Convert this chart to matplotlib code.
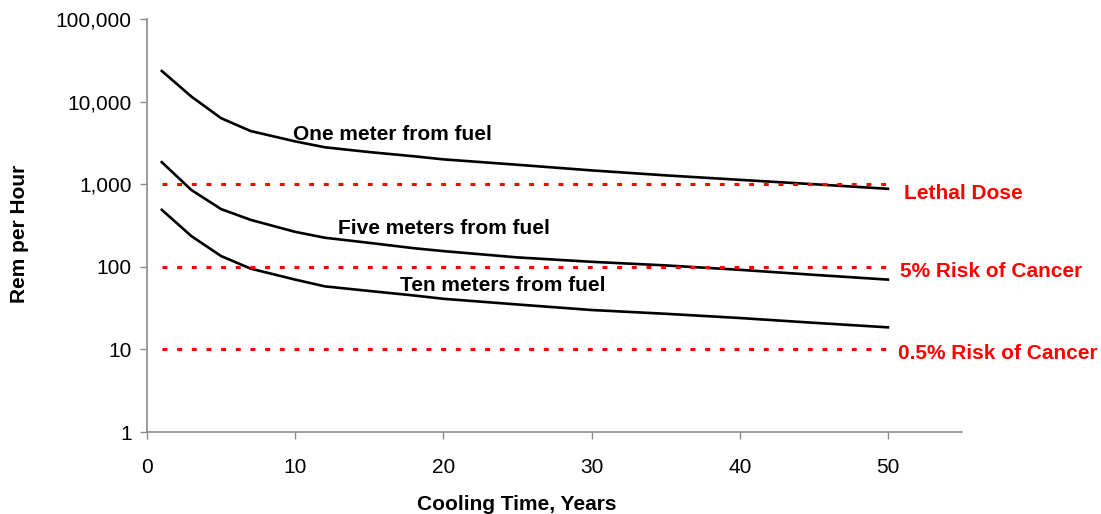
#!/usr/bin/env python3
#=========================================================================#
# Dose rate from spent fuel vs cooling time                               #
#=========================================================================#
import numpy as np
import matplotlib
matplotlib.use('Agg')
import matplotlib.pyplot as plt
from matplotlib.ticker import FixedLocator, FuncFormatter, NullLocator
#-------------------------------------------------------------------------#
# Data                                                                    #
#-------------------------------------------------------------------------#
years       = [1, 3, 5, 7, 10, 12, 15, 18, 20, 25, 30, 35, 40, 45, 50]
one_meter   = [23500, 11500, 6300, 4400, 3300, 2800, 2450, 2180, 2000,
               1720, 1470, 1280, 1130, 1000, 880]
five_meter  = [1850, 850, 500, 370, 265, 225, 195, 168, 155,
               130, 115, 104, 92, 80, 70]
ten_meter   = [490, 235, 135, 95, 70, 58, 51, 45, 41,
               35, 30, 27, 24, 21, 18.5]
curve_names = ['One meter from fuel', 'Five meters from fuel',
               'Ten meters from fuel']
limits      = [1000, 100, 10]
limit_names = ['Lethal Dose', '5% Risk of Cancer', '0.5% Risk of Cancer']
y_ticks     = [1, 10, 100, 1000, 10000, 100000]
x_ticks     = [0, 10, 20, 30, 40, 50]
#-------------------------------------------------------------------------#
# Settings                                                                #
#-------------------------------------------------------------------------#
plt.rcParams['font.family'] = ['Liberation Sans', 'DejaVu Sans']
axis_gray   = '#8c8c8c'
red         = '#ff0000'
fs          = 15

fig = plt.figure(figsize=(11.01, 5.14), dpi=100)
ax  = fig.add_axes([0.1335, 0.1595, 0.7403, 0.8035])
#-------------------------------------------------------------------------#
# Curves                                                                  #
#-------------------------------------------------------------------------#
for vals in [one_meter, five_meter, ten_meter]:
    ax.plot(years, vals, color='black', lw=1.9, solid_joinstyle='round')

for lim in limits:
    ax.plot([years[0], years[-1]], [lim, lim], color=red, lw=2.2,
            linestyle=(0, (1.6, 3.2)), dash_capstyle='butt')
#-------------------------------------------------------------------------#
# Labels on curves                                                        #
#-------------------------------------------------------------------------#
label_pos   = [(9.85, 3430), (12.9, 250), (17.1, 51)]
for name, (lx, ly) in zip(curve_names, label_pos):
    ax.text(lx, ly, name, fontsize=fs, fontweight='bold', color='black',
            ha='left', va='baseline')

limit_pos   = [(51.1, 656), (50.8, 76), (50.7, 7.6)]
for name, (lx, ly) in zip(limit_names, limit_pos):
    ax.text(lx, ly, name, fontsize=fs, fontweight='bold', color=red,
            ha='left', va='baseline', clip_on=False)
#-------------------------------------------------------------------------#
# Axes                                                                    #
#-------------------------------------------------------------------------#
ax.set_yscale('log')
ax.set_xlim(0, 55)
ax.set_ylim(1, 100000)
ax.yaxis.set_major_locator(FixedLocator(y_ticks))
ax.yaxis.set_minor_locator(NullLocator())
ax.yaxis.set_major_formatter(FuncFormatter(lambda v, p: '{:,.0f}'.format(v)))
ax.set_xticks(x_ticks)

for side in ['top', 'right']:
    ax.spines[side].set_visible(False)
for side in ['left', 'bottom']:
    ax.spines[side].set_color(axis_gray)
    ax.spines[side].set_linewidth(1.2)

ax.tick_params(axis='both', direction='out', length=5, width=1.0,
               color=axis_gray, labelsize=fs, labelcolor='black')
ax.tick_params(axis='x', pad=14)
ax.tick_params(axis='y', pad=6)

fig.text(0.0175, 0.545, 'Rem per Hour', rotation=90, fontsize=fs,
         fontweight='bold', ha='center', va='center')
fig.text(0.469, 0.008, 'Cooling Time, Years', fontsize=fs,
         fontweight='bold', ha='center', va='baseline')

fig.savefig('out.png', dpi=100)
